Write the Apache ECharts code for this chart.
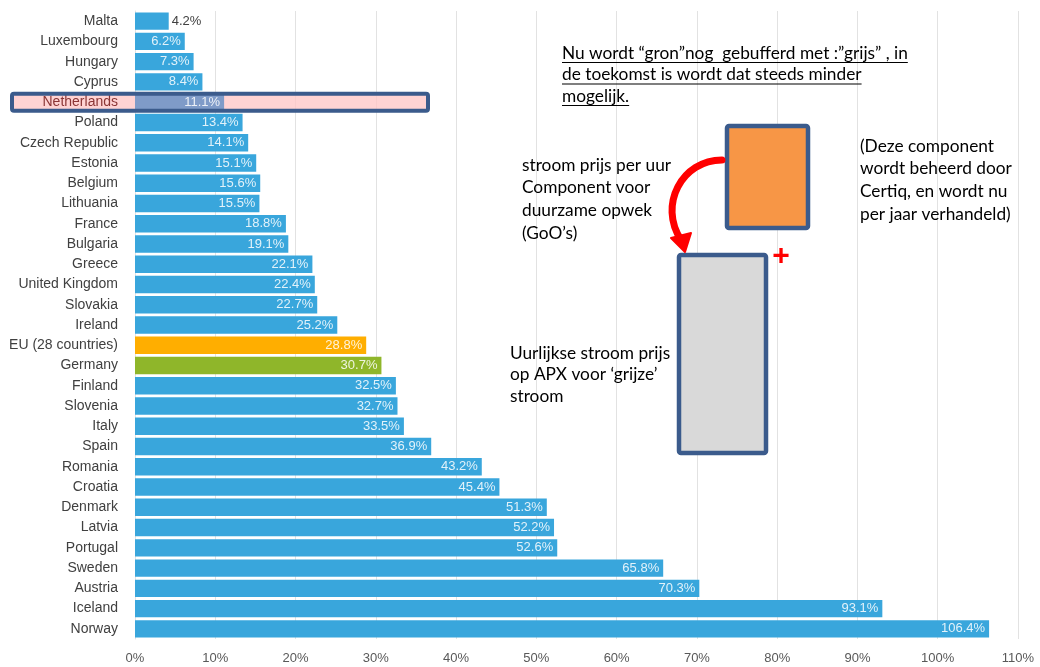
<!DOCTYPE html>
<html>
<head>
<meta charset="utf-8">
<script src="https://cdn.jsdelivr.net/npm/echarts@6/dist/echarts.min.js"></script>
<style>html,body{margin:0;padding:0;background:#fff;}#c{width:1040px;height:667px;}</style>
</head>
<body>
<div id="c"></div>
<script>
const countries = ['Malta','Luxembourg','Hungary','Cyprus','Netherlands','Poland','Czech Republic','Estonia','Belgium','Lithuania','France','Bulgaria','Greece','United Kingdom','Slovakia','Ireland','EU (28 countries)','Germany','Finland','Slovenia','Italy','Spain','Romania','Croatia','Denmark','Latvia','Portugal','Sweden','Austria','Iceland','Norway'];
const shares = [4.2,6.2,7.3,8.4,11.1,13.4,14.1,15.1,15.6,15.5,18.8,19.1,22.1,22.4,22.7,25.2,28.8,30.7,32.5,32.7,33.5,36.9,43.2,45.4,51.3,52.2,52.6,65.8,70.3,93.1,106.4];
const xTicks = [0,10,20,30,40,50,60,70,80,90,100,110];

const topNote = ['Nu wordt \u201cgron\u201dnog  gebufferd met :\u201dgrijs\u201d , in','de toekomst is wordt dat steeds minder','mogelijk.'];
const gooNote = ['stroom prijs per uur','Component voor','duurzame opwek','(GoO\u2019s)'];
const certiqNote = ['(Deze component','wordt beheerd door','Certiq, en wordt nu','per jaar verhandeld)'];
const apxNote = ['Uurlijkse stroom prijs','op APX voor \u2018grijze\u2019','stroom'];

const BLUE = '#39a6dc', ORANGE = '#ffae00', GREEN = '#8fb62a', NL = '#7f9bc8';
const FONT = 'Liberation Sans';
const NOTE_FONT = 'Lato';

function barColor(name){
  if (name === 'EU (28 countries)') return ORANGE;
  if (name === 'Germany') return GREEN;
  if (name === 'Netherlands') return NL;
  return BLUE;
}

const data = countries.map((c,i)=>({
  value: shares[i],
  itemStyle:{color: barColor(c)},
  label: c === 'Malta' ? {position:'right', color:'#404040', distance:3} : undefined
}));

const chart = echarts.init(document.getElementById('c'), null, {renderer:'canvas'});
const option = {
  animation:false,
  backgroundColor:'#ffffff',
  grid:{left:135, right:22, top:11, bottom:28, containLabel:false},
  xAxis:{
    type:'value', min:xTicks[0], max:xTicks[xTicks.length-1], interval:10,
    axisLine:{show:false}, axisTick:{show:false},
    splitLine:{show:true, lineStyle:{color:'#e2e2e2', width:1}},
    axisLabel:{formatter:'{value}%', color:'#595959', fontSize:13, fontFamily:FONT, margin:13}
  },
  yAxis:{
    type:'category', data:countries, inverse:true, z:2,
    axisLine:{show:true, lineStyle:{color:'#e2e2e2'}}, axisTick:{show:false},
    axisLabel:{
      fontSize:14, fontFamily:FONT, margin:17,
      color:(v)=> v==='Netherlands' ? '#8b3535' : '#404040'
    }
  },
  series:[{
    type:'bar', data:data, barCategoryGap:'14%',
    label:{show:true, position:'insideRight', color:'rgba(255,255,255,0.85)', fontSize:13, fontFamily:FONT, distance:4,
      formatter:(p)=>p.value.toFixed(1)+'%'},
    z:3
  }]
};
chart.setOption(option);

// measure for underline
const cv = document.createElement('canvas').getContext('2d');
const noteFont = '17.3px "' + NOTE_FONT + '"';
cv.font = noteFont;

const nlY = chart.convertToPixel({yAxisIndex:0}, 'Netherlands');
const g = [];
// pink highlight under bars and axis labels
g.push({type:'rect', z:1, shape:{x:12,y:nlY-8.5,width:416,height:17}, style:{fill:'rgba(255,196,196,0.75)'}});
// border on top
g.push({type:'rect', z:100, shape:{x:12,y:nlY-8.5,width:416,height:17,r:2}, style:{fill:null, stroke:'#3b5b8c', lineWidth:4}});

function textBlock(lines, x, y0, lh, underline){
  lines.forEach((t,i)=>{
    const y = y0 + i*lh;
    g.push({type:'text', z:50, style:{text:t, x:x, y:y, fill:'#000', font:noteFont, verticalAlign:'middle'}});
    if (underline){
      const w = cv.measureText(t).width;
      g.push({type:'line', z:50, shape:{x1:x,y1:y+9.5,x2:x+w,y2:y+9.5}, style:{stroke:'#000', lineWidth:1.2}});
    }
  });
}
textBlock(topNote, 562, 53, 21.5, true);
textBlock(gooNote, 522, 165, 22.7, false);
textBlock(certiqNote, 860, 146, 22.7, false);
textBlock(apxNote, 510, 353, 21.8, false);

// boxes
g.push({type:'rect', z:40, shape:{x:727,y:126,width:81,height:102,r:2}, style:{fill:'#f79646', stroke:'#3b5b8c', lineWidth:4.5}});
g.push({type:'rect', z:40, shape:{x:679,y:255,width:87,height:198,r:2}, style:{fill:'#d9d9d9', stroke:'#3b5b8c', lineWidth:4.5}});
// red plus
g.push({type:'text', z:50, style:{text:'+', x:781, y:257, fill:'#ff0000', font:'bold 30px "Liberation Sans"', align:'center', verticalAlign:'middle'}});
// red curved arrow
g.push({type:'bezierCurve', z:45, shape:{x1:722,y1:160,cpx1:682,cpy1:160,cpx2:658,cpy2:205,x2:681,y2:240}, style:{stroke:'#ff0000', lineWidth:7, fill:null, lineCap:'round'}});
g.push({type:'polygon', z:45, shape:{points:[[671,238],[691,233],[685,252]]}, style:{fill:'#ff0000', stroke:'#ff0000', lineWidth:2, lineJoin:'round'}});

chart.setOption({graphic:{elements:g}});
</script>
</body>
</html>
